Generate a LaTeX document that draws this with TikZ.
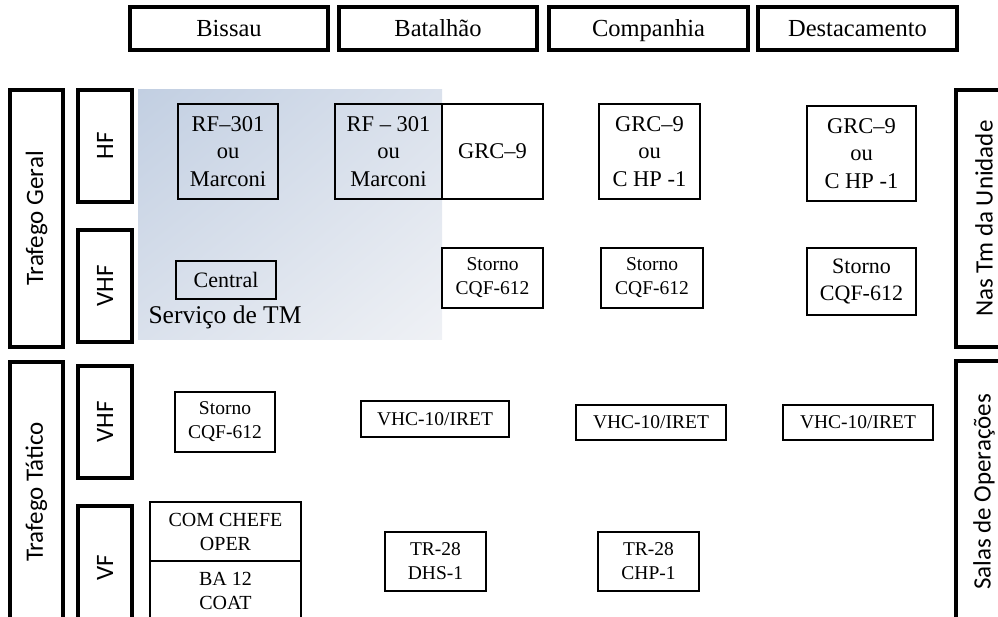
\documentclass[tikz,border=0pt]{standalone}
\usepackage{fontspec}
\usetikzlibrary{shadings}
\setmainfont{Liberation Serif}
\newfontfamily\labfont{Carlito}
\definecolor{bgA}{HTML}{C2CFE2}
\definecolor{bgB}{HTML}{DAE1EC}
\definecolor{bgC}{HTML}{EFF1F5}
\tikzset{
  thickbox/.style={draw, line width=3.2pt, inner sep=0pt},
  hdr/.style={thickbox, minimum width=198pt, minimum height=43pt, text height=16pt, text depth=0pt, font=\fontsize{24.5}{29}\selectfont},
  side/.style={thickbox, rotate=90, font=\labfont\fontsize{25}{30}\selectfont},
  eq/.style={draw, line width=1.8pt, inner sep=0pt, align=center},
  big/.style={font=\fontsize{22.5}{27.5}\selectfont},
  small/.style={font=\fontsize{19.5}{24}\selectfont},
}
\begin{document}
\begin{tikzpicture}[x=1pt,y=-1pt]
\useasboundingbox (0,0) rectangle (998,617);
% shaded area
\shade[upper left=bgA, upper right=bgB, lower left=bgB, lower right=bgC] (138,90) rectangle (442,340);
% headers
\node[hdr] (hB) at (229,28.5) {Bissau};
\node[hdr] (hBat) at (438,28.5) {Batalhão};
\node[hdr, minimum width=199pt] (hC) at (648.5,28.5) {Companhia};
\node[hdr, minimum width=199pt] (hD) at (857.5,28.5) {Destacamento};
% side labels
\node[side, minimum width=257pt, minimum height=53pt] (tg) at (36.5,218.5) {Trafego Geral};
\node[side, minimum width=112pt, minimum height=54pt] (hf) at (105,146) {HF};
\node[side, minimum width=112pt, minimum height=54pt] (vhf1) at (105,286) {VHF};
\node[side, minimum width=260pt, minimum height=53pt] (tt) at (36.5,492) {Trafego Tático};
\node[side, minimum width=112pt, minimum height=54pt] (vhf2) at (105,422) {VHF};
\node[side, minimum width=124pt, minimum height=54pt] (vf) at (105,568) {VF};
\node[side, minimum width=257pt, minimum height=56pt] (nas) at (984,218.5) {Nas Tm da Unidade};
\node[side, minimum width=262pt, minimum height=56pt] (salas) at (984,492) {Salas de Operações};
% HF row
\node[eq, big, minimum width=100pt, minimum height=95pt] (rf1) at (228,151.5) {RF–301\\ou\\Marconi};
\node[eq, big, minimum width=107pt, minimum height=95pt] (rf2) at (388.5,151.5) {RF – 301\\ou\\Marconi};
\node[eq, big, minimum width=101pt, minimum height=95pt] (grc1) at (492.5,151.5) {GRC–9};
\node[eq, big, minimum width=101pt, minimum height=95pt] (grc2) at (649.5,151.5) {GRC–9\\ou\\C HP -1};
\node[eq, big, minimum width=109pt, minimum height=95pt] (grc3) at (861.5,153.5) {GRC–9\\ou\\C HP -1};
% VHF row (geral)
\node[eq, font=\fontsize{22}{27}\selectfont, minimum width=100pt, minimum height=38pt] (central) at (226,280) {Central};
\node[font=\fontsize{25.5}{30}\selectfont] (serv) at (225,317) {Serviço de TM};
\node[eq, small, text depth=4pt, minimum width=101pt, minimum height=60pt] (st1) at (492.5,278) {Storno\\CQF-612};
\node[eq, small, text depth=4pt, minimum width=102pt, minimum height=60pt] (st2) at (652,278) {Storno\\CQF-612};
\node[eq, font=\fontsize{22}{27}\selectfont, minimum width=109pt, minimum height=67pt] (st3) at (861.5,281.5) {Storno\\CQF-612};
% VHF row (tatico)
\node[eq, small, minimum width=100pt, minimum height=60pt] (stB) at (225,422) {Storno\\CQF-612};
\node[eq, small, minimum width=148pt, minimum height=36pt] (vhc1) at (435,419) {VHC-10/IRET};
\node[eq, small, minimum width=150pt, minimum height=35pt] (vhc2) at (651,422.5) {VHC-10/IRET};
\node[eq, small, minimum width=150pt, minimum height=35pt] (vhc3) at (858,422.5) {VHC-10/IRET};
% VF row
\node[eq, font=\fontsize{20}{24}\selectfont, minimum width=151pt, minimum height=59pt] (com) at (225.5,531.5) {COM CHEFE\\OPER};
\node[eq, font=\fontsize{20}{24}\selectfont, minimum width=151pt, minimum height=59pt] (ba) at (225.5,590.5) {BA 12\\COAT};
\node[eq, small, minimum width=101pt, minimum height=59pt] (tr1) at (435.5,561.5) {TR-28\\DHS-1};
\node[eq, small, minimum width=101pt, minimum height=59pt] (tr2) at (648.5,561.5) {TR-28\\CHP-1};
\end{tikzpicture}
\end{document}
